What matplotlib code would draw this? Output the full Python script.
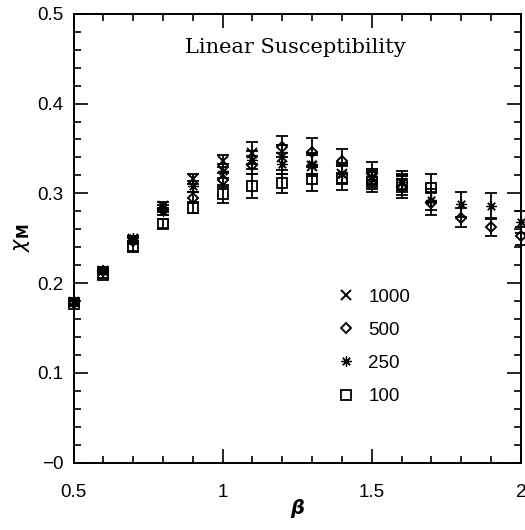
import numpy as np
import matplotlib.pyplot as plt
from matplotlib.ticker import MultipleLocator

plt.rcParams["font.family"] = ["Liberation Sans", "DejaVu Sans"]

# beta grid and susceptibility per lattice size
beta = [0.5, 0.6, 0.7, 0.8, 0.9, 1.0, 1.1, 1.2, 1.3, 1.4, 1.5, 1.6, 1.7, 1.8, 1.9, 2.0]

chi_1000 = [0.179, 0.214, 0.249, 0.286, 0.316, 0.336, 0.345, 0.340, 0.331, 0.322, 0.318, 0.312]
err_1000 = [0.003, 0.003, 0.003, 0.004, 0.006, 0.007, 0.012, 0.014, 0.012, 0.010, 0.008, 0.008]

chi_500 = [0.178, 0.213, 0.247, 0.283, 0.295, 0.315, 0.332, 0.352, 0.346, 0.336, 0.322, 0.307,
           0.289, 0.273, 0.262, 0.252]
err_500 = [0.003, 0.003, 0.003, 0.004, 0.006, 0.008, 0.010, 0.012, 0.016, 0.013, 0.013, 0.012,
           0.013, 0.011, 0.009, 0.010]

chi_250 = [0.180, 0.215, 0.250, 0.280, 0.308, 0.325, 0.337, 0.333, 0.333, 0.322, 0.316, 0.313,
           0.293, 0.288, 0.286, 0.268]
err_250 = [0.003, 0.003, 0.003, 0.004, 0.006, 0.008, 0.010, 0.012, 0.012, 0.012, 0.011, 0.012,
           0.012, 0.014, 0.014, 0.012]

chi_100 = [0.177, 0.209, 0.240, 0.266, 0.284, 0.299, 0.308, 0.311, 0.316, 0.317, 0.313, 0.310, 0.306]
err_100 = [0.003, 0.003, 0.004, 0.005, 0.006, 0.010, 0.013, 0.011, 0.013, 0.013, 0.011, 0.012, 0.016]

series = [
    ("1000", chi_1000, err_1000, dict(marker="x", ms=7.5, mew=1.4, mfc="none")),
    ("500", chi_500, err_500, dict(marker="D", ms=5, mew=1.4, mfc="none")),
    ("250", chi_250, err_250, dict(marker=(8, 2, 0), ms=7.5, mew=0.9, mfc="none")),
    ("100", chi_100, err_100, dict(marker="s", ms=6.5, mew=1.3, mfc="none")),
]

fig = plt.figure(figsize=(5.25, 5.30), dpi=100)
ax = fig.add_axes([0.14, 0.127, 0.852, 0.847])

for label, y, e, style in series:
    x = beta[:len(y)]
    ax.errorbar(x, y, yerr=e, fmt="none", ecolor="black", elinewidth=1.3,
                capsize=4.5, capthick=1.3, clip_on=False)
    ax.plot(x, y, ls="none", color="black", label=label, clip_on=False, **style)

ax.set_xlim(0.5, 2.0)
ax.set_ylim(0, 0.5)
ax.xaxis.set_minor_locator(MultipleLocator(0.1))
ax.yaxis.set_minor_locator(MultipleLocator(0.02))
ax.set_xticks([0.5, 1.0, 1.5, 2.0], ["0.5", "1", "1.5", "2"])
ax.set_yticks([0, 0.1, 0.2, 0.3, 0.4, 0.5], ["\u22120", "0.1", "0.2", "0.3", "0.4", "0.5"])
ax.tick_params(which="both", direction="in", top=True, right=True, labelsize=13.5, width=1.2)
ax.tick_params(which="major", length=10)
ax.tick_params(axis="y", which="major", pad=7)
ax.tick_params(axis="x", which="major", pad=15)
ax.tick_params(which="minor", length=5)
for s in ax.spines.values():
    s.set_linewidth(1.4)

ax.set_xlabel("β", fontsize=14, fontstyle="italic", fontweight="bold", labelpad=-1,
              family="DejaVu Sans")
ax.set_ylabel(r"$\chi_{\mathbf{M}}$", fontsize=15, labelpad=4)

ax.text(0.497, 0.925, "Linear Susceptibility", transform=ax.transAxes, ha="center", va="center",
        family="DejaVu Serif", fontsize=15)

ax.legend(loc="upper left", bbox_to_anchor=(0.55, 0.425), frameon=False, fontsize=13.5,
          handlelength=1.0, handletextpad=0.7, labelspacing=0.85, numpoints=1)

fig.savefig("out.png", dpi=100)
